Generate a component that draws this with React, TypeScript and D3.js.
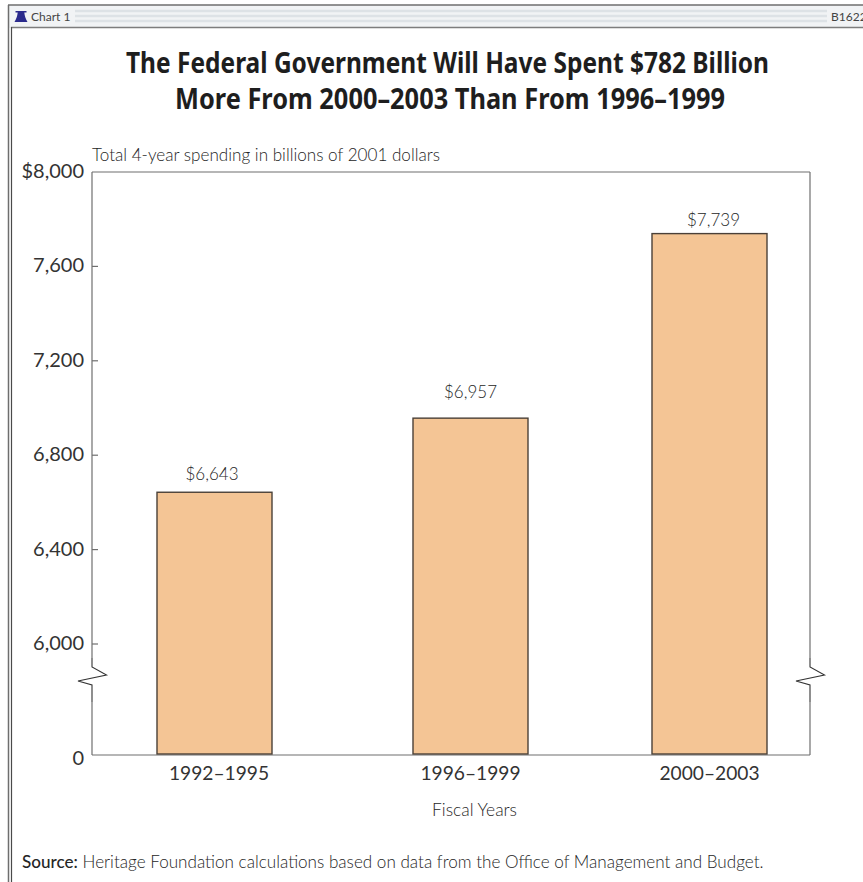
import React from "react";
import * as d3 from "d3";

const WIDTH = 863;
const HEIGHT = 882;

const categories = ["1992–1995", "1996–1999", "2000–2003"];
const spending = [6643, 6957, 7739];
const valueLabels = ["$6,643", "$6,957", "$7,739"];
const yTicks = [0, 6000, 6400, 6800, 7200, 7600, 8000];
const yTickLabels = ["0", "6,000", "6,400", "6,800", "7,200", "7,600", "$8,000"];

const titleLines = [
  "The Federal Government Will Have Spent $782 Billion",
  "More From 2000–2003 Than From 1996–1999",
];

// Slot centres along the category axis, the gap between each bar and its label,
// and small horizontal offsets for the value and category labels.
const slotCentres = [214.5, 470.5, 709.5];
const labelGaps = [18, 26, 14];
const valueNudges = [-2.5, 0, 4];
const categoryNudges = [4.5, 0, 0];

const BAR_WIDTH = 115;
const PLOT = { left: 92, right: 810, top: 172, bottom: 755 };
const BREAK_Y = 676;

const BODY_FONT = "Lato, 'Noto Sans', sans-serif";
const TITLE_FONT = "'Noto Sans', 'Open Sans', sans-serif";
const TEXT = "#333333";
const LIGHT_TEXT = "#262626";
const AXIS = "#6f6f6f";

// The value axis is cut between 0 and 6,000, so the lower stretch is compressed.
const y = d3
  .scaleLinear()
  .domain([0, 6000, 8000])
  .range([PLOT.bottom, 644, PLOT.top]);

const x = d3.scaleOrdinal<string, number>().domain(categories).range(slotCentres);

const straight = d3.line();

// Zigzag drawn over a vertical frame edge where the value axis is cut.
function breakPath(cx: number): string {
  const points: [number, number][] = [
    [cx, BREAK_Y - 18],
    [cx, BREAK_Y - 9],
    [cx + 14.5, BREAK_Y - 1],
    [cx - 14, BREAK_Y + 5],
    [cx, BREAK_Y + 9],
    [cx, BREAK_Y + 26],
  ];
  return straight(points) ?? "";
}

function TitleBar() {
  const stripeRows = [11, 16, 21];
  return (
    <g>
      <rect x={9} y={5} width={WIDTH - 9} height={23} fill="#f1f3f5" />
      {stripeRows.map((row) => (
        <line key={row} x1={75} x2={827} y1={row} y2={row} stroke="#dde2e6" strokeWidth={2.4} />
      ))}
      <line x1={8} x2={WIDTH} y1={5} y2={5} stroke="#6e6e6e" strokeWidth={1.5} />
      <line x1={11} x2={WIDTH} y1={27.5} y2={27.5} stroke="#7d7d7d" strokeWidth={1.5} />
      <line x1={8.5} x2={8.5} y1={5} y2={HEIGHT} stroke="#6e6e6e" strokeWidth={1.5} />
      <line x1={11.5} x2={11.5} y1={27} y2={HEIGHT} stroke="#4a4a4a" strokeWidth={1.2} />
      {/* Bell emblem */}
      <path
        d="M15.5 11 h11 v1.6 h-2.2 c0.4 3.4 1.2 6 3.2 9.4 h-13 c2 -3.4 2.8 -6 3.2 -9.4 h-2.2 z"
        fill="#2a2a8c"
      />
      <text x={31} y={21} fontFamily={BODY_FONT} fontSize={12} fill="#444">
        Chart 1
      </text>
      <text x={831} y={21} fontFamily={BODY_FONT} fontSize={12} fill="#444">
        B1622
      </text>
    </g>
  );
}

export default function App() {
  const zero = y(0);
  return (
    <svg
      width={WIDTH}
      height={HEIGHT}
      viewBox={`0 0 ${WIDTH} ${HEIGHT}`}
      style={{ position: "absolute", left: 0, top: 0, background: "#fff" }}
    >
      <TitleBar />

      {titleLines.map((line, i) => (
        <text
          key={line}
          x={i === 0 ? 447.5 : 450}
          y={73 + i * 35.5}
          textAnchor="middle"
          fontFamily={TITLE_FONT}
          fontWeight={700}
          fontSize={29}
          fill="#1e1e1e"
          textLength={i === 0 ? 643 : 550}
          lengthAdjust="spacingAndGlyphs"
        >
          {line}
        </text>
      ))}

      <text x={92} y={161} fontFamily={BODY_FONT} fontWeight={300} fontSize={17.1} fill={LIGHT_TEXT}>
        Total 4-year spending in billions of 2001 dollars
      </text>

      {/* Plot frame */}
      <line x1={PLOT.left} x2={PLOT.right} y1={PLOT.top} y2={PLOT.top} stroke={AXIS} strokeWidth={1.2} />
      <line x1={PLOT.left} x2={PLOT.right} y1={zero} y2={zero} stroke={AXIS} strokeWidth={1.2} />
      {[PLOT.left, PLOT.right].map((edge) => (
        <g key={edge}>
          <line x1={edge} x2={edge} y1={PLOT.top} y2={BREAK_Y - 18} stroke={AXIS} strokeWidth={1.2} />
          <line x1={edge} x2={edge} y1={BREAK_Y + 26} y2={zero} stroke={AXIS} strokeWidth={1.2} />
          <path d={breakPath(edge)} fill="none" stroke="#333" strokeWidth={1.1} />
        </g>
      ))}

      {yTicks.map((tick, i) => (
        <g key={tick}>
          {tick !== 0 && tick !== 8000 && (
            <line x1={PLOT.left} x2={PLOT.left + 6} y1={y(tick)} y2={y(tick)} stroke={AXIS} strokeWidth={1.2} />
          )}
          <text
            x={PLOT.left - 8}
            y={y(tick) + (tick === 0 ? 10 : 6)}
            textAnchor="end"
            fontFamily={BODY_FONT}
            fontSize={20}
            fill={TEXT}
          >
            {yTickLabels[i]}
          </text>
        </g>
      ))}

      {categories.map((category, i) => {
        const centre = x(category);
        const top = y(spending[i]);
        return (
          <g key={category}>
            <rect
              x={centre - BAR_WIDTH / 2}
              y={top}
              width={BAR_WIDTH}
              height={zero - top - 1}
              fill="#f4c595"
              stroke="#4a4038"
              strokeWidth={1.4}
            />
            <text
              x={centre + valueNudges[i]}
              y={top - labelGaps[i]}
              dy="0.35em"
              textAnchor="middle"
              fontFamily={BODY_FONT}
              fontWeight={300}
              fontSize={17}
              fill={LIGHT_TEXT}
            >
              {valueLabels[i]}
            </text>
            <text
              x={centre + categoryNudges[i]}
              y={780}
              textAnchor="middle"
              fontFamily={BODY_FONT}
              fontSize={19.2}
              fill={TEXT}
            >
              {category}
            </text>
          </g>
        );
      })}

      <text
        x={474.5}
        y={816}
        textAnchor="middle"
        fontFamily={BODY_FONT}
        fontWeight={300}
        fontSize={17.4}
        fill={LIGHT_TEXT}
      >
        Fiscal Years
      </text>

      <text x={22} y={868} fontFamily={BODY_FONT} fontSize={17.1} fill={LIGHT_TEXT}>
        <tspan fontWeight={500}>Source:</tspan>
        <tspan fontWeight={300}> Heritage Foundation calculations based on data from the Office of Management and Budget.</tspan>
      </text>
    </svg>
  );
}
